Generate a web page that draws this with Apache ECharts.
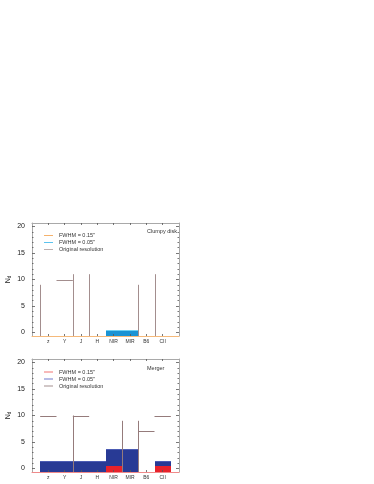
<!DOCTYPE html>
<html><head><meta charset="utf-8">
<script src="https://cdn.jsdelivr.net/npm/echarts@6/dist/echarts.min.js"></script>
<style>html,body{margin:0;padding:0;background:#fff}#c{width:374px;height:484px}</style>
</head><body><div id="c"></div>
<script>
// ---- data ----
const categories = ['z', 'Y', 'J', 'H', 'NIR', 'MIR', 'B6', 'CII'];
const yTickValues = [0, 5, 10, 15, 20];
const yMinorTickValues = [1, 2, 3, 4, 6, 7, 8, 9, 11, 12, 13, 14, 16, 17, 18, 19];

// Clumpy disk panel
const clumpyFwhm015 = [0, 0, 0, 0, 0, 0, 0, 0];
const clumpyFwhm005 = [0, 0, 0, 0, 0.4, 0.4, 0, 0];
const clumpyOrigEdges = [0.5, 2.5, 3.5, 6.5, 7.5];
const clumpyOrigEdgeTops = [9, 11, 11, 9, 11];
const clumpyOrigLevelCats = ['Y'];
const clumpyOrigLevels = [10];

// Merger panel
const mergerFwhm015 = [0, 0, 0, 0, 0.45, 0, 0, 0.45];
const mergerFwhm005 = [1.4, 1.4, 1.4, 1.4, 3.6, 3.6, 0, 1.4];
const mergerOrigEdges = [2.5, 5.5, 6.5];
const mergerOrigEdgeTops = [10, 9, 9];
const mergerOrigLevelCats = ['z', 'J', 'B6', 'CII'];
const mergerOrigLevels = [10, 10, 7, 10];

const panelTitles = ['Clumpy disk', 'Merger'];
const legendNames = ['FWHM = 0.15"', 'FWHM = 0.05"', 'Original resolution'];

// ---- chart ----
const Y_MIN = -0.65, Y_MAX = 20.65;
const FONT = '"Liberation Sans", Arial, sans-serif';
const catPositions = categories.map((c, i) => i + 1);
const BOX = '#a9a9a9', TICK = '#555';

const grids = [
  { left: 32, right: 195, top: 223, height: 113 },
  { left: 32, right: 195, top: 359, height: 113 }
];
const bottomLineColors = ['#f5b97a', '#f08a8a'];

const xAxes = [], yAxes = [];
grids.forEach((g, gi) => {
  xAxes.push({
    gridIndex: gi, type: 'value', min: 0, max: 9, position: 'bottom', z: 5,
    axisLine: { show: true, onZero: false, lineStyle: { color: bottomLineColors[gi], width: 1 } },
    axisTick: { show: true, inside: true, length: 2, customValues: catPositions, lineStyle: { color: TICK, width: 0.8 } },
    axisLabel: { show: true, customValues: catPositions, margin: 3, fontSize: 5, color: '#333', fontFamily: FONT,
      formatter: v => categories[Math.round(v) - 1] || '' },
    splitLine: { show: false }
  });
  xAxes.push({
    gridIndex: gi, type: 'value', min: 0, max: 9, position: 'top',
    axisLine: { show: true, onZero: false, lineStyle: { color: BOX, width: 1 } },
    axisTick: { show: true, inside: true, length: 2, customValues: catPositions, lineStyle: { color: TICK, width: 0.8 } },
    axisLabel: { show: false }, splitLine: { show: false }
  });
  const base = { gridIndex: gi, type: 'value', min: Y_MIN, max: Y_MAX, splitLine: { show: false } };
  yAxes.push(Object.assign({}, base, {
    position: 'left',
    axisLine: { show: true, onZero: false, lineStyle: { color: BOX, width: 1 } },
    axisTick: { show: true, inside: true, length: 3, customValues: yTickValues, lineStyle: { color: TICK, width: 0.8 } },
    axisLabel: { show: true, customValues: yTickValues, margin: 7, fontSize: 7, color: '#222', fontFamily: FONT },
    name: '{n|N}{s|d}', nameLocation: 'middle', nameRotate: 90, nameGap: 20,
    nameTextStyle: { fontFamily: FONT, color: '#222', rich: {
      n: { fontSize: 7, fontFamily: FONT, color: '#222' },
      s: { fontSize: 4.5, fontFamily: FONT, color: '#222', padding: [3, 0, 0, 0] } } }
  }));
  yAxes.push(Object.assign({}, base, {
    position: 'left', axisLine: { show: false, onZero: false },
    axisTick: { show: true, inside: true, length: 1.5, customValues: yMinorTickValues, lineStyle: { color: TICK, width: 0.8 } },
    axisLabel: { show: false }
  }));
  yAxes.push(Object.assign({}, base, {
    position: 'right',
    axisLine: { show: true, onZero: false, lineStyle: { color: BOX, width: 1 } },
    axisTick: { show: true, inside: true, length: 3, customValues: yTickValues, lineStyle: { color: TICK, width: 0.8 } },
    axisLabel: { show: false }
  }));
  yAxes.push(Object.assign({}, base, {
    position: 'right', axisLine: { show: false, onZero: false },
    axisTick: { show: true, inside: true, length: 1.5, customValues: yMinorTickValues, lineStyle: { color: TICK, width: 0.8 } },
    axisLabel: { show: false }
  }));
});

function barSeries(name, values, gi, fill, edge, z) {
  return {
    type: 'custom', name, xAxisIndex: 2 * gi, yAxisIndex: 4 * gi, clip: true, z,
    data: values.map((v, i) => [i + 1, v]),
    encode: { x: 0, y: 1 },
    renderItem: (params, api) => {
      const x = api.value(0), v = api.value(1);
      if (!(v > 0)) return null;
      const tl = api.coord([x - 0.5, v]);
      const br = api.coord([x + 0.5, Y_MIN]);
      const x0 = Math.round(tl[0]), x1 = Math.round(br[0]);
      const y0 = Math.round(tl[1]), y1 = Math.round(br[1]);
      return { type: 'group', children: [
        { type: 'rect', shape: { x: x0, y: y0, width: x1 - x0, height: y1 - y0 }, style: { fill } },
        { type: 'rect', shape: { x: x0, y: y0, width: x1 - x0, height: 1 }, style: { fill: edge } }
      ] };
    }
  };
}

function origSeries(name, edges, tops, levelCats, levels, gi, color) {
  const data = edges.map((e, i) => [e, Y_MIN, e, tops[i]])
    .concat(levelCats.map((c, i) => {
      const p = categories.indexOf(c) + 1;
      return [p - 0.5, levels[i], p + 0.5, levels[i]];
    }));
  return {
    type: 'custom', name, xAxisIndex: 2 * gi, yAxisIndex: 4 * gi, clip: true, z: 4,
    data, encode: { x: [0, 2], y: [1, 3] },
    renderItem: (params, api) => {
      const a = api.coord([api.value(0), api.value(1)]);
      const b = api.coord([api.value(2), api.value(3)]);
      const vertical = Math.abs(a[0] - b[0]) < 0.01;
      let x1 = a[0], x2 = b[0], y1 = a[1], y2 = b[1];
      if (vertical) { x1 = x2 = Math.round(a[0]) + 0.5; }
      else { y1 = y2 = Math.round(a[1]) + 0.5; }
      return { type: 'line', shape: { x1, y1, x2, y2 }, style: { stroke: color, lineWidth: 1 } };
    }
  };
}

const series = [
  barSeries(legendNames[1], clumpyFwhm005, 0, '#1a93d4', '#6fd0f3', 2),
  barSeries(legendNames[0], clumpyFwhm015, 0, '#f5b97a', '#f5b97a', 3),
  origSeries(legendNames[2], clumpyOrigEdges, clumpyOrigEdgeTops, clumpyOrigLevelCats, clumpyOrigLevels, 0, '#a38e8e'),
  barSeries(legendNames[1], mergerFwhm005, 1, '#283a95', '#4c5cb4', 2),
  barSeries(legendNames[0], mergerFwhm015, 1, '#e8222b', '#e8222b', 3),
  origSeries(legendNames[2], mergerOrigEdges, mergerOrigEdgeTops, mergerOrigLevelCats, mergerOrigLevels, 1, '#957b7b')
];

const legendColors = [
  ['#f5b26c', '#5cc3ee', '#bdb0b0'],
  ['#f07272', '#7178cc', '#a38e8e']
];
const legendTops = [232, 368.5];
const legends = legendColors.map((cols, gi) => ({
  left: 44, top: legendTops[gi], orient: 'vertical', padding: 0, itemGap: 0,
  itemWidth: 9, itemHeight: 1, selectedMode: false,
  textStyle: { fontSize: 5.5, lineHeight: 7, color: '#333', fontFamily: FONT, padding: [0, 0, 0, 1] },
  data: legendNames.map((n, i) => ({ name: n, icon: 'rect', itemStyle: { color: cols[i] } }))
}));

const titleTops = [228.3, 364.5];
const titles = panelTitles.map((t, gi) => ({
  text: t, left: 147, top: titleTops[gi], padding: 0,
  textStyle: { fontSize: 5.5, lineHeight: 7, fontWeight: 'normal', color: '#333', fontFamily: FONT }
}));

const chart = echarts.init(document.getElementById('c'), null, { renderer: 'canvas' });
chart.setOption({
  animation: false,
  backgroundColor: '#fff',
  title: titles,
  legend: legends,
  grid: grids,
  xAxis: xAxes,
  yAxis: yAxes,
  series
});
</script>
</body></html>
